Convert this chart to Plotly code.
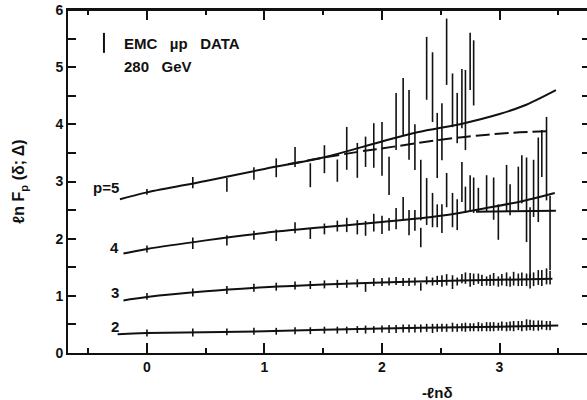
import plotly.graph_objects as go

# ---- data ----
X = [0.00, 0.39, 0.68, 0.91, 1.10, 1.26, 1.39, 1.51, 1.62, 1.70,
     1.79, 1.86, 1.93, 2.00, 2.06, 2.12, 2.18, 2.23, 2.28, 2.33,
     2.38, 2.43, 2.47, 2.51, 2.55, 2.60, 2.64, 2.68, 2.71, 2.75,
     2.78, 2.82, 2.85, 2.89, 2.92, 2.95, 2.99, 3.02, 3.06, 3.09,
     3.12, 3.16, 3.19, 3.23, 3.26, 3.29, 3.33, 3.36, 3.40, 3.43]

P2_Y = [0.35, 0.36, 0.37, 0.38, 0.38, 0.39, 0.39, 0.40, 0.40, 0.40,
        0.41, 0.41, 0.41, 0.42, 0.42, 0.42, 0.43, 0.43, 0.43, 0.43,
        0.44, 0.43, 0.44, 0.44, 0.44, 0.45, 0.44, 0.45, 0.45, 0.45,
        0.45, 0.46, 0.45, 0.46, 0.46, 0.46, 0.46, 0.47, 0.46, 0.47,
        0.47, 0.48, 0.47, 0.49, 0.49, 0.48, 0.48, 0.49, 0.48, 0.48]
P2_E = [0.06, 0.07, 0.06, 0.06, 0.06, 0.06, 0.06, 0.06, 0.06, 0.06,
        0.06, 0.07, 0.06, 0.06, 0.07, 0.07, 0.07, 0.07, 0.07, 0.07,
        0.07, 0.08, 0.07, 0.07, 0.07, 0.08, 0.07, 0.07, 0.08, 0.07,
        0.07, 0.08, 0.07, 0.08, 0.08, 0.08, 0.07, 0.08, 0.08, 0.08,
        0.09, 0.08, 0.09, 0.10, 0.09, 0.09, 0.09, 0.08, 0.08, 0.08]

P3_Y = [0.99, 1.06, 1.10, 1.14, 1.16, 1.18, 1.19, 1.20, 1.21, 1.21,
        1.22, 1.14, 1.24, 1.24, 1.25, 1.26, 1.24, 1.24, 1.25, 1.16,
        1.27, 1.25, 1.27, 1.26, 1.28, 1.24, 1.25, 1.30, 1.31, 1.28,
        1.29, 1.30, 1.27, 1.26, 1.27, 1.29, 1.25, 1.28, 1.29, 1.25,
        1.30, 1.28, 1.29, 1.28, 1.26, 1.29, 1.32, 1.31, 1.34, 1.32]
P3_E = [0.06, 0.07, 0.07, 0.07, 0.07, 0.07, 0.07, 0.07, 0.07, 0.07,
        0.07, 0.07, 0.07, 0.07, 0.07, 0.07, 0.07, 0.07, 0.07, 0.07,
        0.07, 0.07, 0.08, 0.10, 0.10, 0.12, 0.07, 0.08, 0.10, 0.12,
        0.10, 0.09, 0.10, 0.08, 0.10, 0.11, 0.09, 0.10, 0.12, 0.09,
        0.12, 0.11, 0.12, 0.11, 0.13, 0.12, 0.13, 0.14, 0.14, 0.12]

P4_Y = [1.82, 1.92, 1.97, 2.06, 2.06, 2.19, 2.09, 2.17, 2.22, 2.24,
        2.20, 2.18, 2.28, 2.24, 2.25, 2.35, 2.53, 2.28, 2.32, 2.02,
        2.65, 2.50, 2.40, 2.35, 2.85, 2.50, 2.42, 2.99, 2.68, 2.79,
        2.76, 2.68, None, 2.79, None, 2.70, 2.29, None, 2.88, 2.68,
        None, 2.88, 3.04, 2.68, 1.93, 2.88, 3.03, 3.49, 3.40, 2.10]
P4_E = [0.06, 0.10, 0.09, 0.08, 0.10, 0.095, 0.095, 0.095, 0.095, 0.125,
        0.125, 0.13, 0.155, 0.16, 0.11, 0.185, 0.20, 0.22, 0.18, 0.17,
        0.41, 0.30, 0.20, 0.25, 0.30, 0.30, 0.27, 0.35, 0.23, 0.32,
        0.31, 0.21, 0, 0.32, 0, 0.37, 0.31, 0, 0.41, 0.27,
        0, 0.38, 0.42, 0.74, 0.62, 0.50, 0.74, 0.41, 0.73, 0.65]

P5_Y = [2.82, 2.98, 2.94, 3.14, 3.24, 3.43, 3.11, 3.39, 3.19, 3.58,
        3.37, 3.52, 3.63, 3.57, 3.10, 4.05, 4.31, 3.99, 3.60, 2.85,
        4.98, 4.65, 3.63, 3.87, 5.27, 4.42, 4.11, 4.45, 4.25, 5.10,
        4.90, None, None, None, None, None, None, None, None, None,
        None, None, None, None, None, None, None, None, None, None]
P5_E = [0.05, 0.10, 0.12, 0.11, 0.165, 0.175, 0.21, 0.245, 0.195, 0.375,
        0.305, 0.265, 0.39, 0.47, 0.335, 0.50, 0.50, 0.61, 0.40, 0.53,
        0.55, 0.61, 0.57, 0.50, 0.58, 0.47, 0.44, 0.52, 0.70, 0.50,
        0.57, 0, 0, 0, 0, 0, 0, 0, 0, 0,
        0, 0, 0, 0, 0, 0, 0, 0, 0, 0]

# theory curves
C2_X = [-0.25, 0.0, 1.0, 2.0, 3.0, 3.5]
C2_Y = [0.33, 0.35, 0.38, 0.43, 0.46, 0.48]
C3_X = [-0.2, 0.0, 0.5, 1.0, 1.5, 2.0, 2.5, 3.0, 3.45]
C3_Y = [0.92, 0.98, 1.08, 1.15, 1.20, 1.235, 1.26, 1.28, 1.30]
C4_X = [-0.2, 0.0, 0.5, 1.0, 1.5, 2.0, 2.5, 2.9, 3.2, 3.47]
C4_Y = [1.74, 1.82, 1.97, 2.10, 2.20, 2.29, 2.40, 2.54, 2.66, 2.80]
C4B_X = [2.8, 3.1, 3.48]
C4B_Y = [2.47, 2.48, 2.49]
C5_X = [-0.23, 0.0, 0.5, 1.0, 1.5, 2.0, 2.3, 2.7, 3.0, 3.2, 3.48]
C5_Y = [2.69, 2.81, 3.01, 3.22, 3.42, 3.70, 3.86, 4.02, 4.18, 4.32, 4.60]
C5D_X = [1.2, 1.4, 1.8, 2.1, 2.5, 2.8, 3.1, 3.42]
C5D_Y = [3.30, 3.38, 3.52, 3.61, 3.73, 3.80, 3.85, 3.88]

CURVE_LABELS = ["p=5", "4", "3", "2"]
CURVE_LABEL_Y = [2.90, 1.84, 1.05, 0.47]

X_TICKS = [0, 1, 2, 3]
X_MINOR = [-0.5, 0.5, 1.5, 2.5, 3.5]
Y_TICKS = [0, 1, 2, 3, 4, 5, 6]
Y_MINOR = [0.5, 1.5, 2.5, 3.5, 4.5, 5.5]

FONT = "Liberation Sans"
INK = "#111111"
X_RANGE = [-0.672, 3.770]
Y_RANGE = [0, 6]

fig = go.Figure()

# curves
for cx, cy, dash in [(C2_X, C2_Y, "solid"), (C3_X, C3_Y, "solid"),
                     (C4_X, C4_Y, "solid"), (C4B_X, C4B_Y, "solid"),
                     (C5_X, C5_Y, "solid"), (C5D_X, C5D_Y, "14px,5px")]:
    fig.add_trace(go.Scatter(x=cx, y=cy, mode="lines",
                             line=dict(color=INK, width=2, dash=dash, shape="spline"),
                             hoverinfo="skip"))

# data error bars
for yy, ee in [(P2_Y, P2_E), (P3_Y, P3_E), (P4_Y, P4_E), (P5_Y, P5_E)]:
    fig.add_trace(go.Scatter(
        x=X, y=yy, mode="markers",
        marker=dict(size=2, color="rgba(0,0,0,0)"),
        hoverinfo="skip",
        error_y=dict(type="data", array=ee, symmetric=True, width=0,
                     thickness=1.6, color=INK)))

tf = dict(family=FONT, size=14, color=INK)

# figure is 3px wider than the window so the right frame line falls just outside
fig.update_layout(
    width=590, height=400,
    margin=dict(l=68, r=0, t=10, b=47, autoexpand=False),
    paper_bgcolor="white", plot_bgcolor="white",
    showlegend=False,
    hovermode=False,
    xaxis=dict(range=X_RANGE, showline=True, linewidth=2, linecolor=INK,
               mirror="allticks", ticks="inside", ticklen=10, tickwidth=2,
               tickcolor=INK, tickvals=X_TICKS,
               ticktext=["<b>%d</b>" % v for v in X_TICKS],
               minor=dict(tickvals=X_MINOR, ticklen=5,
                          tickwidth=2, tickcolor=INK, ticks="inside"),
               showgrid=False, zeroline=False, tickfont=tf, automargin=False),
    yaxis=dict(range=Y_RANGE, showline=True, linewidth=2, linecolor=INK,
               mirror="allticks", ticks="inside", ticklen=8, tickwidth=2,
               tickcolor=INK, tickvals=Y_TICKS,
               ticktext=["<b>%d</b>" % v for v in Y_TICKS],
               minor=dict(tickvals=Y_MINOR, ticklen=8, tickwidth=2,
                          tickcolor=INK, ticks="inside"),
               showgrid=False, zeroline=False, tickfont=tf, automargin=False,
               ticklabeloverflow="allow"),
)

# top frame line
fig.add_shape(type="line", xref="paper", yref="paper", x0=0, x1=1, y0=1, y1=1,
              line=dict(color=INK, width=2))

lab = dict(family=FONT, size=15, color=INK)
for t, yv in zip(CURVE_LABELS, CURVE_LABEL_Y):
    fig.add_annotation(x=-0.22, y=yv, xref="x", yref="y", text="<b>%s</b>" % t,
                       showarrow=False, xanchor="right", yanchor="middle", font=lab)

fig.add_annotation(x=-0.213, y=5.42, xref="x", yref="y",
                   text="<b>EMC\u00a0\u00a0\u00a0\u00b5p\u00a0\u00a0\u00a0DATA</b>",
                   showarrow=False, xanchor="left", yanchor="middle", font=lab)
fig.add_annotation(x=-0.213, y=5.02, xref="x", yref="y",
                   text="<b>280\u00a0\u00a0\u00a0GeV</b>",
                   showarrow=False, xanchor="left", yanchor="middle", font=lab)
fig.add_shape(type="line", xref="x", yref="y", x0=-0.366, x1=-0.366,
              y0=5.25, y1=5.60, line=dict(color=INK, width=2))

fig.add_annotation(x=-0.092, y=0.5, xref="paper", yref="paper",
                   text="<b>\u2113n F<sub>p</sub> (\u03b4; \u0394)</b>",
                   textangle=-90, showarrow=False, xanchor="center",
                   yanchor="middle", font=dict(family=FONT, size=16, color=INK))
fig.add_annotation(x=2.47, y=-0.114, xref="x", yref="paper",
                   text="<b>-\u2113n\u03b4</b>", showarrow=False,
                   xanchor="center", yanchor="middle", font=lab)

fig.write_html(
    "out.html",
    config={"displayModeBar": False, "staticPlot": True},
    post_script="document.body.style.margin='0';document.body.style.overflow='hidden';",
)
